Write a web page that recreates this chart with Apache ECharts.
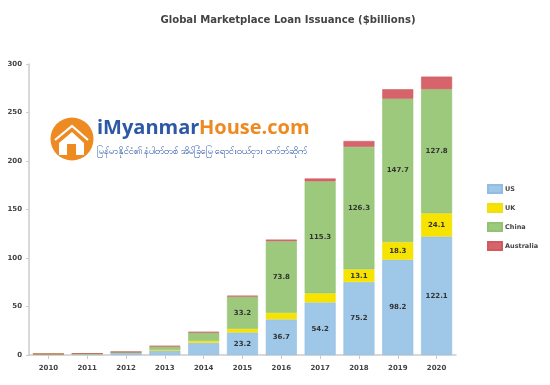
<!DOCTYPE html>
<html><head><meta charset="utf-8">
<style>html,body{margin:0;padding:0;background:#fff}#c{width:550px;height:385px}</style>
<script src="https://cdn.jsdelivr.net/npm/echarts@6/dist/echarts.min.js"></script>
</head><body><div id="c"></div>
<script>
const years = ['2010','2011','2012','2013','2014','2015','2016','2017','2018','2019','2020'];
const us = [0.9,1.2,2.6,4.5,12.5,23.2,36.7,54.2,75.2,98.2,122.1];
const uk = [0.1,0.1,0.2,0.8,2.0,3.8,6.8,9.5,13.1,18.3,24.1];
const china = [0.1,0.2,0.3,3.4,8.5,33.2,73.8,115.3,126.3,147.7,127.8];
const australia = [0,0,0,0.8,1.0,1.0,1.7,3.0,6.0,9.8,13.0];
const labelMin = {US:20, UK:13, China:30, Australia:1000};
const font = '"DejaVu Sans", Verdana, sans-serif';
function series(name, data, color, border){
  return {name, type:'bar', stack:'total', data, barWidth:31,
    itemStyle:{color, borderColor:border, borderWidth:0.6},
    label:{show:true, position:'inside', color:'#333', fontFamily:font, fontWeight:'bold', fontSize:7,
      formatter:p=>p.value>=labelMin[name]?p.value.toFixed(1):''}};
}
const chart = echarts.init(document.getElementById('c'), null, {renderer:'canvas'});
chart.setOption({
  animation:false,
  backgroundColor:'#fff',
  title:{text:'Global Marketplace Loan Issuance ($billions)', left:283, top:10, textAlign:'center',
    textStyle:{fontFamily:font, fontWeight:'bold', fontSize:10.1, color:'#444'}},
  grid:{left:29, right:94, top:64, bottom:30},
  legend:{orient:'vertical', left:482, top:179, itemWidth:14, itemHeight:8, itemGap:9,
    icon:'rect', data:['US','UK','China','Australia'],
    textStyle:{fontFamily:font, fontWeight:'bold', fontSize:6.5, color:'#444', padding:[0,0,0,-2]}},
  xAxis:{type:'category', data:years,
    axisLine:{lineStyle:{color:'#ccc', width:1.5}},
    axisTick:{show:true, alignWithLabel:true, length:4, lineStyle:{color:'#ccc'}},
    axisLabel:{fontFamily:font, fontWeight:'bold', fontSize:7, color:'#444', margin:10}},
  yAxis:{type:'value', min:0, max:300, interval:50,
    splitLine:{show:false},
    axisLine:{show:true, lineStyle:{color:'#ccc', width:1.5}},
    axisTick:{show:true, length:3, lineStyle:{color:'#ccc'}},
    axisLabel:{fontFamily:font, fontWeight:'bold', fontSize:7, color:'#444', margin:7}},
  series:[
    series('US', us, '#9ec7e8', '#8fbde3'),
    series('UK', uk, '#f7e300', '#f2df10'),
    series('China', china, '#9dc97c', '#92c272'),
    series('Australia', australia, '#d8646b', '#cf5a62')
  ],
  graphic:[
    {type:'circle', shape:{cx:72, cy:139, r:21.5}, style:{fill:'#ee8a22'}},
    {type:'polyline', shape:{points:[[55,140],[72,126],[88,140]]}, style:{stroke:'#fff', lineWidth:2.2, fill:null}},
    {type:'polygon', shape:{points:[[59,143],[72,132],[84,143],[84,155],[76,155],[76,144],[67,144],[67,155],[59,155]]}, style:{fill:'#fff'}},
    {type:'text', x:97, y:118, style:{text:'iMyanmar', font:'bold 20px "Open Sans", sans-serif', fill:'#2c58a5'}},
    {type:'text', x:199, y:118, style:{text:'House.com', font:'bold 20px "Open Sans", sans-serif', fill:'#ee8a22'}},
    {type:'text', x:97, y:147, style:{text:'မြန်မာနိုင်ငံ၏ နံပါတ်တစ် အိမ်ခြံမြေ ရောင်းဝယ်ငှား ဝက်ဘ်ဆိုက်', font:'9.4px "Noto Sans", sans-serif', fill:'#2c58a5'}}
  ]
});
</script></body></html>
